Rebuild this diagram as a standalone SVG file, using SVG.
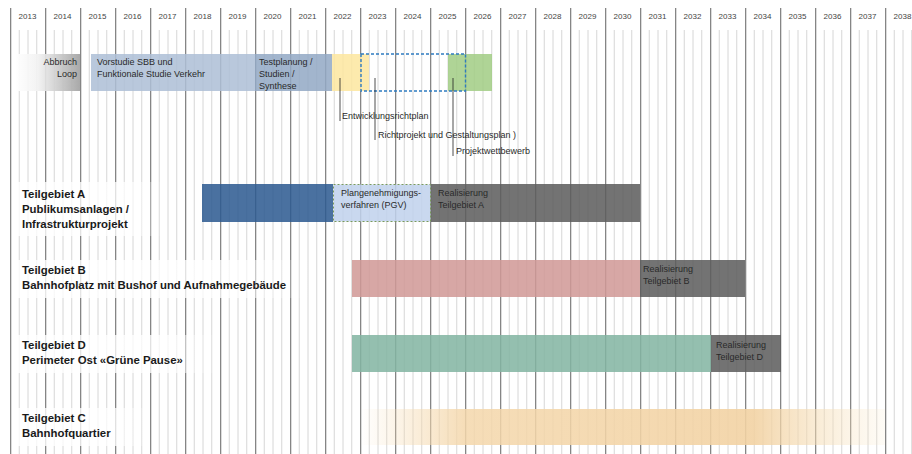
<svg xmlns="http://www.w3.org/2000/svg" width="912" height="454" viewBox="0 0 912 454">
<style>
.yr{font-family:"Liberation Sans",Arial,sans-serif;font-size:8px;fill:#444;text-anchor:middle}
.bt{font-family:"Liberation Sans",Arial,sans-serif;font-size:9px;fill:#2a2a2a}
.lb{font-family:"Liberation Sans",Arial,sans-serif;font-size:11.4px;font-weight:bold;fill:#1a1a1a}
.ld{stroke:#222;stroke-width:0.8;fill:none}
.bar{fill-opacity:0.86}
</style>
<defs>
<pattern id="yearGrid" x="10" y="0" width="35" height="454" patternUnits="userSpaceOnUse">
<line x1="0.6" y1="0" x2="0.6" y2="454" stroke="#858585" stroke-width="1.4"/>
</pattern>
<pattern id="qGrid" x="10" y="0" width="35" height="454" patternUnits="userSpaceOnUse">
<line x1="9.25" y1="0" x2="9.25" y2="454" stroke="#d6d6d6" stroke-width="1"/>
<line x1="18" y1="0" x2="18" y2="454" stroke="#d6d6d6" stroke-width="1"/>
<line x1="26.75" y1="0" x2="26.75" y2="454" stroke="#d6d6d6" stroke-width="1"/>
</pattern>
<linearGradient id="gAbb" x1="0" y1="0" x2="1" y2="0">
<stop offset="0" stop-color="#ffffff"/>
<stop offset="0.35" stop-color="#f2f2f2"/>
<stop offset="1" stop-color="#a2a2a2"/>
</linearGradient>
<linearGradient id="gLbl" x1="0" y1="0" x2="1" y2="0">
<stop offset="0" stop-color="#ffffff" stop-opacity="0.8"/>
<stop offset="0.75" stop-color="#ffffff" stop-opacity="0.75"/>
<stop offset="1" stop-color="#ffffff" stop-opacity="0"/>
</linearGradient>
<linearGradient id="gC" x1="360" y1="0" x2="885" y2="0" gradientUnits="userSpaceOnUse">
<stop offset="0" stop-color="#f6dcb3" stop-opacity="0"/>
<stop offset="0.2" stop-color="#f4d7ab" stop-opacity="0.85"/>
<stop offset="0.75" stop-color="#f2d2a3" stop-opacity="0.9"/>
<stop offset="1" stop-color="#f8e6c4" stop-opacity="0.15"/>
</linearGradient>
</defs>
<rect width="912" height="454" fill="#ffffff"/>
<g id="grid">
<rect x="10" y="30" width="902" height="424" fill="url(#qGrid)"/>
<rect x="10" y="8" width="902" height="446" fill="url(#yearGrid)"/>
<g id="years">
<text class="yr" x="27.5" y="19">2013</text><text class="yr" x="62.5" y="19">2014</text><text class="yr" x="97.5" y="19">2015</text><text class="yr" x="132.5" y="19">2016</text><text class="yr" x="167.5" y="19">2017</text><text class="yr" x="202.5" y="19">2018</text><text class="yr" x="237.5" y="19">2019</text><text class="yr" x="272.5" y="19">2020</text><text class="yr" x="307.5" y="19">2021</text><text class="yr" x="342.5" y="19">2022</text><text class="yr" x="377.5" y="19">2023</text><text class="yr" x="412.5" y="19">2024</text><text class="yr" x="447.5" y="19">2025</text><text class="yr" x="482.5" y="19">2026</text><text class="yr" x="517.5" y="19">2027</text><text class="yr" x="552.5" y="19">2028</text><text class="yr" x="587.5" y="19">2029</text><text class="yr" x="622.5" y="19">2030</text><text class="yr" x="657.5" y="19">2031</text><text class="yr" x="692.5" y="19">2032</text><text class="yr" x="727.5" y="19">2033</text><text class="yr" x="762.5" y="19">2034</text><text class="yr" x="797.5" y="19">2035</text><text class="yr" x="832.5" y="19">2036</text><text class="yr" x="867.5" y="19">2037</text><text class="yr" x="902.5" y="19">2038</text>
</g>
</g>
<g id="abbruch">
<rect x="15" y="54" width="65" height="37" fill="url(#gAbb)" fill-opacity="0.92"/>
<text class="bt" x="77" y="65" text-anchor="end">Abbruch</text>
<text class="bt" x="77" y="77" text-anchor="end">Loop</text>
</g>
<g id="vorstudie">
<rect class="bar" x="91" y="54" width="164" height="37" fill="#aebfd6"/>
<text class="bt" x="97" y="65">Vorstudie SBB und</text>
<text class="bt" x="97" y="77">Funktionale Studie Verkehr</text>
</g>
<g id="testplanung">
<rect class="bar" x="255" y="54" width="77" height="37" fill="#93a9c5"/>
<text class="bt" x="259" y="65">Testplanung /</text>
<text class="bt" x="259" y="77">Studien /</text>
<text class="bt" x="259" y="89">Synthese</text>
</g>
<g id="entwicklungsrichtplan">
<rect class="bar" x="332" y="54" width="37" height="37" fill="#fde6a0"/>
</g>
<g id="projektwettbewerb">
<rect class="bar" x="448" y="54" width="44" height="37" fill="#a2cd85"/>
</g>
<g id="richtprojekt">
<rect x="361" y="54" width="104.5" height="37" fill="none" stroke="#2e7bc0" stroke-width="1.4" stroke-dasharray="3,2"/>
</g>
<g id="connectors">
<line class="ld" x1="340" y1="78" x2="340" y2="121"/>
<line class="ld" x1="375" y1="78" x2="375" y2="140"/>
<line class="ld" x1="453" y1="78" x2="453" y2="156"/>
</g>
<g id="leader-labels">
<text class="bt" x="342" y="119">Entwicklungsrichtplan</text>
<text class="bt" x="378" y="138">Richtprojekt und Gestaltungsplan )</text>
<text class="bt" x="456" y="154">Projektwettbewerb</text>
</g>
<g id="teilgebiet-a">
<rect x="15" y="182" width="150" height="54" fill="url(#gLbl)"/>
<text class="lb" x="22" y="198">Teilgebiet A</text>
<text class="lb" x="22" y="213">Publikumsanlagen /</text>
<text class="lb" x="22" y="228">Infrastrukturprojekt</text>
<rect class="bar" x="202" y="184" width="131" height="38" fill="#2c5a90"/>
<rect class="bar" x="333.5" y="184.5" width="97" height="37" fill="#c0d2ec" stroke="#7a9a5c" stroke-width="1" stroke-dasharray="2,2"/>
<text class="bt" x="341" y="196">Plangenehmigungs-</text>
<text class="bt" x="341" y="208">verfahren (PGV)</text>
<rect class="bar" x="431" y="184" width="209" height="38" fill="#5c5c5c"/>
<text class="bt" x="438" y="196">Realisierung</text>
<text class="bt" x="438" y="208">Teilgebiet A</text>
</g>
<g id="teilgebiet-b">
<rect x="15" y="260" width="295" height="38" fill="url(#gLbl)"/>
<text class="lb" x="22" y="274">Teilgebiet B</text>
<text class="lb" x="22" y="289">Bahnhofplatz mit Bushof und Aufnahmegebäude</text>
<rect class="bar" x="352" y="260" width="288" height="37" fill="#d09996"/>
<rect class="bar" x="640" y="260" width="105" height="37" fill="#5c5c5c"/>
<text class="bt" x="643" y="272">Realisierung</text>
<text class="bt" x="643" y="284">Teilgebiet B</text>
</g>
<g id="teilgebiet-d">
<rect x="15" y="335" width="205" height="38" fill="url(#gLbl)"/>
<text class="lb" x="22" y="349">Teilgebiet D</text>
<text class="lb" x="22" y="364">Perimeter Ost «Grüne Pause»</text>
<rect class="bar" x="352" y="335" width="359" height="37" fill="#82b4a2"/>
<rect class="bar" x="711" y="335" width="70" height="37" fill="#5c5c5c"/>
<text class="bt" x="716" y="348">Realisierung</text>
<text class="bt" x="716" y="360">Teilgebiet D</text>
</g>
<g id="teilgebiet-c">
<rect x="15" y="408" width="135" height="38" fill="url(#gLbl)"/>
<text class="lb" x="22" y="422">Teilgebiet C</text>
<text class="lb" x="22" y="437">Bahnhofquartier</text>
<rect x="360" y="409" width="525" height="36" fill="url(#gC)"/>
</g>
</svg>
